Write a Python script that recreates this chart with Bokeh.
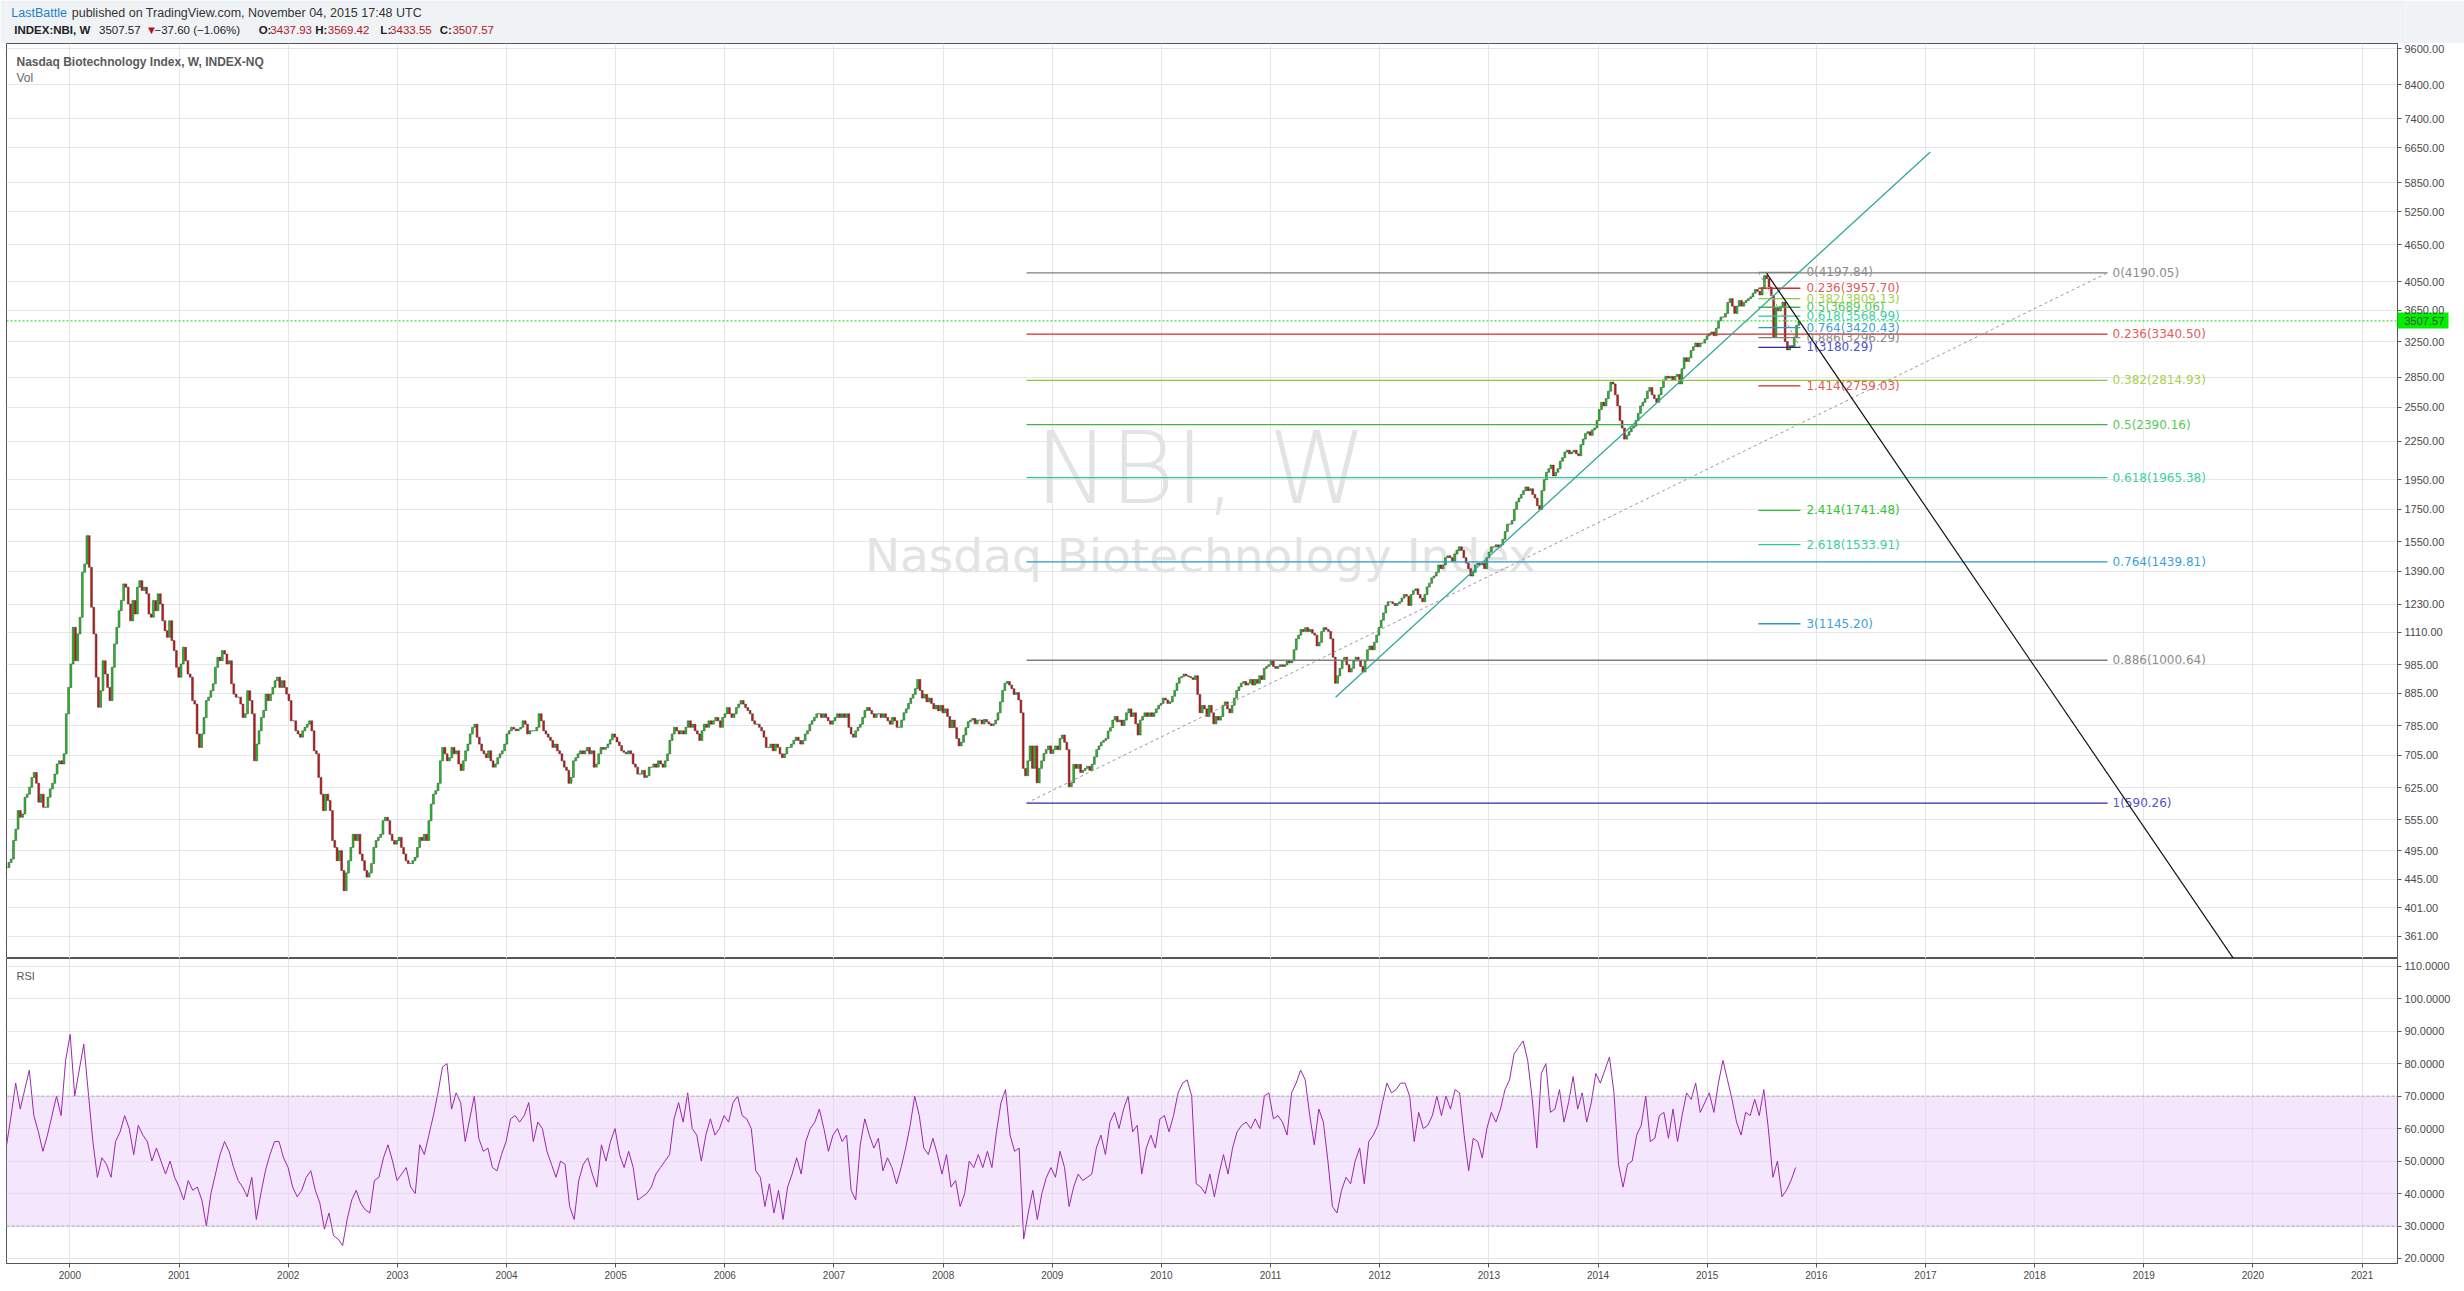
import numpy as np
from bokeh.plotting import figure
from bokeh.layouts import column
from bokeh.models import Range1d, FixedTicker, NumeralTickFormatter, Label, Span, BoxAnnotation, ColumnDataSource
from bokeh.core.properties import value
from bokeh.embed import file_html
from bokeh.resources import INLINE

# ------------------------------------------------------------------ data
first_bar, last_bar = 1999.42, 2015.84          # fractional years of first / last weekly bar
close_1999_2001 = [465, 474, 480, 514, 536, 574, 560, 567, 603, 610, 626, 649, 661, 635, 592, 610, 581, 581, 603, 622,
                   635, 657, 682, 690, 682, 708, 821, 905, 987, 1130, 999, 1103, 1173, 1385, 1428, 1586, 1411, 1217, 1103, 940,
                   841, 894, 999, 951, 905, 862, 975, 1063, 1130, 1202, 1248, 1327, 1311, 1232, 1158, 1248, 1187, 1311, 1343, 1295,
                   1311, 1279, 1187, 1173, 1248, 1202, 1279, 1232,
                   1158, 1116, 1089, 1158, 1076, 1037, 975, 940, 987, 1050, 999, 951, 940, 862, 851, 762, 725, 762, 810, 862,
                   873, 894, 917, 975, 1012, 999, 1037, 1024, 987, 999, 917, 883, 873, 873, 851, 810, 821, 894, 862, 821,
                   690, 734, 771, 810, 831, 883, 862, 883, 905, 928, 940, 905, 928, 905, 883, 862, 800, 800, 771, 762,
                   753, 771, 781, 790, 800, 771, 716, 708, 649, 610, 574, 610, 596, 574, 514, 501, 477, 495, 460, 427,
                   456, 477, 501, 526]
close_2002_2007 = [514, 526, 489, 477, 460, 449, 456, 472, 501, 514, 520, 526, 553, 560, 553, 526, 514, 507, 514, 520,
                   501, 489, 477, 472, 472, 477, 483, 501, 520, 514, 526, 514, 553, 588, 610, 618, 635, 690, 725, 708,
                   690, 698, 725, 708, 716, 682, 666, 690, 716, 734, 762, 781, 790, 753, 734, 716, 708, 698, 716, 690,
                   674, 682, 698, 708, 716, 734, 762, 771, 781, 776, 771, 776, 781, 800, 790, 762, 771, 771, 771, 781,
                   821, 800, 771, 762, 753, 744, 725, 734, 716, 708, 690, 674, 666, 635, 649, 690, 698, 708, 716, 708,
                   716, 725, 708, 716, 674, 682, 708, 725, 720, 725, 734, 746, 762, 753, 740, 730, 716, 712, 708, 716,
                   708, 682, 674, 657, 657, 666, 649, 653, 674, 674, 682, 674, 690, 682, 674, 690, 708, 744, 762, 781,
                   771, 762, 771, 762, 781, 800, 781, 790, 771, 762, 744, 771, 790, 781, 800, 790, 800, 810, 800, 781,
                   810, 821, 840, 821, 810, 821, 840, 851, 862, 851, 840, 831, 821, 800, 790, 790, 781, 771, 753, 725,
                   725, 734, 716, 734, 725, 708, 698, 708, 725, 725, 734, 744, 753, 744, 734, 744, 762, 771, 790, 800,
                   810, 821, 821, 810, 821, 810, 800, 790, 800, 810, 821, 810, 821, 810, 821, 781, 762, 753, 771, 781,
                   790, 810, 831, 840, 831, 821, 810, 821, 821, 810, 821, 810, 800, 790, 810, 800, 781, 781]
close_2007_2011 = [802, 824, 836, 853, 870, 882, 901, 932, 895, 870, 882, 858, 870, 853, 836, 847, 830, 847, 824, 836,
                   813, 780, 802, 780, 749, 729, 739, 759, 780, 797, 802, 807, 791, 802, 802, 791, 804, 797, 791, 786,
                   791, 802, 824, 858, 895, 919, 925, 913, 901, 882, 888, 864, 824, 671, 653, 690, 729, 671, 729, 636,
                   671, 690, 709, 719, 729, 709, 719, 729, 719, 749, 759, 739, 719, 627, 636, 681, 671, 681, 661, 666,
                   671, 676, 666, 681, 700, 719, 729, 739, 744, 749, 770, 780, 802, 813, 797, 802, 786, 802, 824, 836,
                   813, 824, 791, 759, 802, 813, 824, 813, 824, 813, 824, 836, 847, 853, 870, 864, 853, 858, 876, 895,
                   919, 938, 942, 951, 945, 942, 938, 932, 945, 882, 824, 847, 836, 813, 847, 824, 791, 813, 802, 813,
                   847, 858, 836, 824, 847, 870, 895, 907, 919, 925, 913, 919, 932, 913, 932, 919, 945, 932, 971, 978,
                   984, 998, 978, 971, 978, 984, 978, 984, 998, 991, 998, 1040, 1083, 1098, 1121, 1113, 1129, 1113, 1121, 1106,
                   1098, 1055, 1069, 1113, 1129, 1121, 1113]
close_2011_2015 = [1083, 1012, 919, 945, 971, 998, 1012, 984, 958, 971, 998, 1012, 998, 978, 958, 998, 1040, 1055, 1040, 1069,
                   1098, 1129, 1160, 1192, 1225, 1242, 1242, 1234, 1225, 1234, 1242, 1259, 1276, 1268, 1225, 1276, 1294, 1303, 1276, 1259,
                   1242, 1276, 1312, 1330, 1357, 1366, 1385, 1423, 1404, 1423, 1462, 1472, 1462, 1443, 1482, 1502, 1522, 1502, 1462, 1433,
                   1404, 1366, 1385, 1423, 1433, 1423, 1433, 1404, 1462, 1492, 1522, 1522, 1533, 1522, 1533, 1565, 1610, 1655, 1655, 1677,
                   1748, 1797, 1822, 1847, 1873, 1899, 1873, 1886, 1847, 1822, 1772, 1748, 1873, 1950, 2004, 2031, 2059, 1977, 2004, 2031,
                   2088, 2116, 2160, 2175, 2146, 2160, 2175, 2146, 2131, 2220, 2266, 2313, 2329, 2298, 2345, 2361, 2427, 2527, 2597, 2562,
                   2632, 2705, 2798, 2779, 2669, 2562, 2427, 2361, 2266, 2298, 2329, 2361, 2377, 2427, 2492, 2562, 2597, 2632, 2705, 2742,
                   2669, 2632, 2597, 2669, 2742, 2820, 2858, 2839, 2858, 2820, 2858, 2878, 2779, 2939, 3061, 3019, 3061, 3145, 3188, 3232,
                   3188, 3232, 3232, 3276, 3321, 3344, 3367, 3321, 3414, 3509, 3557, 3557, 3606, 3755, 3808, 3704, 3606, 3704, 3782, 3704,
                   3755, 3782, 3808, 3834, 3886, 3940, 3913, 3860, 3967,
                   4146, 4100, 3975, 3850, 3300, 3675, 3640, 3700, 3760, 3250, 3150, 3200, 3180, 3300, 3450, 3507.57]

rsi_first, rsi_last = 1999.42, 2015.81
rsi_1999_2001 = [55, 64, 74, 66, 72, 78, 64, 59, 53, 58, 64, 70, 64, 81, 89,
                 70, 78, 86, 71, 56, 45, 51, 49, 45, 56, 59, 64, 60, 52, 61, 58, 56, 50, 54, 50, 46, 50, 45, 42, 38,
                 44, 41, 42, 38, 30, 40, 46, 52, 56, 53, 48, 44, 42, 39, 45, 32, 40, 47, 52, 56, 56, 51, 48, 42, 39]
rsi_2002_2005 = [41, 45, 47, 41, 37, 29, 34, 27, 26, 24, 32, 38, 41, 37, 35, 34, 44, 45, 51, 55, 50, 44, 46, 48,
                 42, 40, 55, 52, 58, 64, 71, 79, 80, 66, 71, 68, 56, 63, 70, 57, 53, 54, 48, 47, 52, 56, 63, 64, 62,
                 64, 68, 56, 62, 60, 53, 49, 45, 50, 49, 36, 32, 44, 49, 51, 46, 42, 55, 50, 56, 60, 52, 48, 53, 48,
                 38, 39, 40, 42, 46, 48, 50, 52, 63, 68, 62, 71, 60, 58, 50, 58, 63, 58, 60, 64, 62, 68, 70, 64, 63]
rsi_2006_2009 = [60, 47, 45, 36, 43, 34, 41, 32, 42, 46, 51, 46, 56, 60, 62, 66, 60, 53, 58, 60, 56, 58, 41, 38, 55,
                 63, 58, 54, 57, 47, 51, 48, 43, 48, 54, 61, 70, 64, 54, 52, 57, 52, 46, 52, 42, 44, 36, 40, 50, 48,
                 52, 48, 53, 48, 59, 68, 72, 58, 53, 54, 26, 34, 41, 32, 40, 45, 48, 45, 53, 48, 36, 42, 46, 44, 45,
                 46, 54, 58, 52, 62, 65, 60, 66, 70, 59, 61, 46, 54, 58, 54, 63, 64, 59, 64, 71, 74, 75, 70, 43, 42]
rsi_2010_2015 = [40, 46, 39, 46, 52, 46, 54, 59, 61, 62, 60, 63, 60, 70, 71, 63, 64, 62, 58, 71, 74, 78, 75, 64, 55,
                 66, 62, 50, 36, 34, 41, 45, 43, 50, 54, 43, 56, 58, 61, 68, 74, 71, 72, 74, 74, 70, 56, 65, 60, 61,
                 64, 70, 64, 70, 66, 72, 71, 58, 47, 57, 56, 51, 60, 65, 62, 66, 72, 75, 83, 85, 87, 81, 69, 54, 77,
                 80, 65, 66, 72, 62, 68, 76, 66, 71, 62, 68, 77, 74, 78, 82, 71, 49, 42, 49, 50, 58, 61, 70, 56, 57,
                 64, 65, 57, 66, 56, 64, 71, 69, 74, 65, 68, 71, 65, 74, 81, 75, 69, 62, 58, 65, 64, 69, 64, 72, 60,
                 45, 50, 39, 41, 44, 48]

year_ticks = list(range(2000, 2022))
price_ticks = [361, 401, 445, 495, 555, 625, 705, 785, 885, 985, 1110, 1230, 1390, 1550, 1750, 1950, 2250,
               2550, 2850, 3250, 3650, 4050, 4650, 5250, 5850, 6650, 7400, 8400, 9600]
rsi_ticks = [20, 30, 40, 50, 60, 70, 80, 90, 100, 110]
rsi_band = [30, 70]
last_price = 3507.57

fib_levels = ["0", "0.236", "0.382", "0.5", "0.618", "0.764", "0.886", "1"]
fib_values = [4190.05, 3340.50, 2814.93, 2390.16, 1965.38, 1439.81, 1000.64, 590.26]
fib_span = [2008.764, 2018.668]
fib2_levels = ["0", "0.236", "0.382", "0.5", "0.618", "0.764", "0.886", "1", "1.414", "2.414", "2.618", "3"]
fib2_values = [4197.84, 3957.70, 3809.13, 3689.06, 3568.99, 3420.43, 3296.29, 3180.29, 2759.03, 1741.48, 1533.91, 1145.20]
fib2_span = [2015.469, 2015.854]

trend_up_x, trend_up_y = [2011.596, 2017.044], [872.5, 6550]
trend_down_x, trend_down_y = [2015.544, 2020.0], [4185, 299]

header_1 = [("LastBattle", "#1e7fc8"), ("published on TradingView.com, November 04, 2015 17:48 UTC", "#333333")]
header_2 = [("INDEX:NBI, W", "#222222", True), ("3507.57", "#222222", False), ("\u25bc", "#b0171f", False),
            ("\u221237.60 (\u22121.06%)", "#222222", False), ("O:", "#222222", True), ("3437.93", "#b0171f", False),
            ("H:", "#222222", True), ("3569.42", "#b0171f", False), ("L:", "#222222", True), ("3433.55", "#b0171f", False),
            ("C:", "#222222", True), ("3507.57", "#b0171f", False)]

# ------------------------------------------------------------------ styles / layout
FULL_W = 2464
W = 2456
HDR_H, PRICE_H, RSI_H = 43, 915, 326
LEFT_B, AXIS_W = 6, 59
X0, X1 = 1999.4191, 2021.3244
PY0, PY1 = 332.3, 9779.0
RY0, RY1 = 18.46, 112.37
BG = "#f0f3f6"
GRID = "#e6e6e6"
FRAME = "#555555"
fib_line_colors = ["#7f7f7f", "#d42a2a", "#8fc93a", "#44b544", "#2ec79a", "#2b96d1", "#7f7f7f", "#2b2ba8",
                   "#d42a2a", "#2dc42d", "#2ec79a", "#2b96d1"]
fib_text_colors = ["#8c8c8c", "#e35b5b", "#a6d24a", "#5ac85a", "#3ccfa2", "#3aa2dc", "#8c8c8c", "#5252d0",
                   "#e35b5b", "#33c433", "#3ccfa2", "#3aa2dc"]
PX = (X1 - X0) / (W - LEFT_B - AXIS_W)     # years per pixel
BOX_W = 51                                  # width of the green last-price box on the axis

# ------------------------------------------------------------------ header
hdr = figure(width=FULL_W, height=HDR_H, x_range=Range1d(0, FULL_W), y_range=Range1d(HDR_H, 0),
             x_axis_location=None, y_axis_location=None, toolbar_location=None,
             output_backend="svg", min_border=0)
hdr.xgrid.visible = False
hdr.ygrid.visible = False
hdr.outline_line_color = None
hdr.background_fill_color = BG
hdr.border_fill_color = BG
h1_x = [5, 67]
h2_x = [8, 95, 143, 152, 259, 271, 317, 330, 384, 394, 445, 458]
hdr.text(x=h1_x, y=[12, 12], text=[t for t, c in header_1], text_color=[c for t, c in header_1],
         text_font=value("Liberation Sans"), text_font_size="12.5px", text_baseline="middle")
src_n = dict(x=[], t=[], c=[])
src_b = dict(x=[], t=[], c=[])
for (t, c, b), xx in zip(header_2, h2_x):
    d = src_b if b else src_n
    d["x"].append(xx); d["t"].append(t); d["c"].append(c)
hdr.text(x="x", y=29, text="t", text_color="c", source=ColumnDataSource(src_n),
         text_font=value("Liberation Sans"), text_font_size="11.5px", text_baseline="middle")
hdr.text(x="x", y=29, text="t", text_color="c", source=ColumnDataSource(src_b),
         text_font=value("Liberation Sans"), text_font_size="11.5px", text_font_style="bold", text_baseline="middle")

# ------------------------------------------------------------------ price pane
xr = Range1d(X0, X1)
p = figure(width=W, height=PRICE_H, x_range=xr, y_range=Range1d(PY0, PY1), y_axis_type="log",
           x_axis_location=None, y_axis_location="right", toolbar_location=None, output_backend="svg",
           min_border_left=LEFT_B, min_border_right=AXIS_W, min_border_top=0, min_border_bottom=0)
p.outline_line_color = FRAME
p.xgrid.ticker = FixedTicker(ticks=year_ticks)
# current price is shown on the axis as an extra labelled tick with a wide green (minor) tick as its box
p.yaxis.ticker = FixedTicker(ticks=price_ticks + [last_price], minor_ticks=[last_price])
p.ygrid.ticker = FixedTicker(ticks=price_ticks)
p.yaxis.formatter = NumeralTickFormatter(format="0.00")
for g in (p.xgrid, p.ygrid):
    g.grid_line_color = GRID
p.yaxis.axis_line_color = FRAME
p.yaxis.major_tick_line_color = FRAME
p.yaxis.major_tick_in = 0
p.yaxis.major_tick_out = 4
p.yaxis.minor_tick_in = 0
p.yaxis.minor_tick_out = BOX_W
p.yaxis.minor_tick_line_width = 16
p.yaxis.minor_tick_line_color = "#00f000"
p.yaxis.major_label_standoff = 7 - BOX_W     # labels start 7px right of the axis line
p.yaxis.major_label_text_font = "Liberation Sans"
p.yaxis.major_label_text_font_size = "11px"
p.yaxis.major_label_text_color = "#4a4a4a"

# watermark
p.text(x=[2010.376], y=[2032], text=["NBI, W"], text_font=value("DejaVu Sans"), text_font_size="100px",
       text_color="#e3e3e3", text_align="center", text_baseline="middle")
p.text(x=[2010.358], y=[1474], text=["Nasdaq Biotechnology Index"], text_font=value("DejaVu Sans"),
       text_font_size="47px", text_color="#e3e3e3", text_align="center", text_baseline="middle")

# candles
closes = np.array(close_1999_2001 + close_2002_2007 + close_2007_2011 + close_2011_2015, dtype=float)
opens = np.concatenate([[closes[0]], closes[:-1]])
bx = np.linspace(first_bar, last_bar, len(closes))
up = closes >= opens
cs = ColumnDataSource(dict(x=bx, top=np.maximum(opens, closes), bottom=np.minimum(opens, closes),
                           color=np.where(up, "#19d419", "#e01010")))
p.vbar(x="x", top="top", bottom="bottom", width=0.0165, fill_color="color", line_color="#2e2e2e",
       line_width=0.5, source=cs)

# current price line
p.add_layout(Span(location=last_price, dimension="width", line_color="#00dd00", line_dash="2 2", line_width=1))

# fib retracement (large)
for i, (lv, v) in enumerate(zip(fib_levels, fib_values)):
    p.segment(x0=[fib_span[0]], y0=[v], x1=[fib_span[1]], y1=[v], line_color=fib_line_colors[i], line_width=1.3)
p.text(x=[fib_span[1] + 5 * PX] * len(fib_values), y=fib_values,
       text=[f"{lv}({v:.2f})" for lv, v in zip(fib_levels, fib_values)],
       text_color=fib_text_colors[:len(fib_values)], text_font=value("DejaVu Sans"),
       text_font_size="12px", text_baseline="middle")
p.line(x=fib_span, y=[fib_values[-1], fib_values[0]], line_color="#999999", line_dash="3 3", line_width=1)

# fib extension (small)
for i, (lv, v) in enumerate(zip(fib2_levels, fib2_values)):
    p.segment(x0=[fib2_span[0]], y0=[v], x1=[fib2_span[1]], y1=[v], line_color=fib_line_colors[i], line_width=1.3)
p.text(x=[fib2_span[1] + 6 * PX] * len(fib2_values), y=fib2_values,
       text=[f"{lv}({v:.2f})" for lv, v in zip(fib2_levels, fib2_values)],
       text_color=fib_text_colors, text_font=value("DejaVu Sans"),
       text_font_size="12px", text_baseline="middle")
p.line(x=fib2_span, y=[fib2_values[0], fib2_values[7]], line_color="#999999", line_dash="3 3", line_width=1)

# trend lines
p.line(x=trend_up_x, y=trend_up_y, line_color="#2fa89a", line_width=1.3)
p.line(x=trend_down_x, y=trend_down_y, line_color="#111111", line_width=1.2)

# texts
p.add_layout(Label(x=X0 + 10 * PX, y=9141, text="Nasdaq Biotechnology Index, W, INDEX-NQ", text_font="Liberation Sans",
                   text_font_size="12px", text_font_style="bold", text_color="#5a5a5a", text_baseline="middle"))
p.add_layout(Label(x=X0 + 10 * PX, y=8624, text="Vol", text_font="Liberation Sans",
                   text_font_size="12px", text_color="#666666", text_baseline="middle"))

# ------------------------------------------------------------------ RSI pane
r = figure(width=W, height=RSI_H, x_range=xr, y_range=Range1d(RY0, RY1),
           x_axis_location="below", y_axis_location="right", toolbar_location=None, output_backend="svg",
           min_border_left=LEFT_B, min_border_right=AXIS_W, min_border_top=0, min_border_bottom=21)
r.outline_line_color = FRAME
r.xaxis.ticker = FixedTicker(ticks=year_ticks)
r.yaxis.ticker = FixedTicker(ticks=rsi_ticks)
r.yaxis.formatter = NumeralTickFormatter(format="0.0000")
for g in (r.xgrid, r.ygrid):
    g.grid_line_color = GRID
for ax in (r.xaxis, r.yaxis):
    ax.axis_line_color = FRAME
    ax.major_tick_line_color = FRAME
    ax.major_tick_in = 0
    ax.major_tick_out = 4
    ax.minor_tick_line_color = None
    ax.major_label_text_font = "Liberation Sans"
    ax.major_label_text_color = "#4a4a4a"
r.yaxis.major_label_standoff = 3
r.yaxis.major_label_text_font_size = "11px"
r.xaxis.major_label_standoff = 3
r.xaxis.major_label_text_font_size = "10px"

r.add_layout(BoxAnnotation(bottom=rsi_band[0], top=rsi_band[1], fill_color="#e9cdfb", fill_alpha=0.5,
                           line_color=None, level="underlay"))
for lv in rsi_band:
    r.add_layout(Span(location=lv, dimension="width", line_color="#aaaaaa", line_dash="3 2", line_width=1))
rsi = np.array(rsi_1999_2001 + rsi_2002_2005 + rsi_2006_2009 + rsi_2010_2015, dtype=float)
rx = np.linspace(rsi_first, rsi_last, len(rsi))
r.line(x=rx, y=rsi, line_color="#9c27b0", line_width=1)
r.add_layout(Label(x=X0 + 10 * PX, y=107.1, text="RSI", text_font="Liberation Sans",
                   text_font_size="11px", text_color="#555555", text_baseline="middle"))

layout = column(hdr, p, r, spacing=0)
open("out.html", "w").write(file_html(layout, INLINE))
